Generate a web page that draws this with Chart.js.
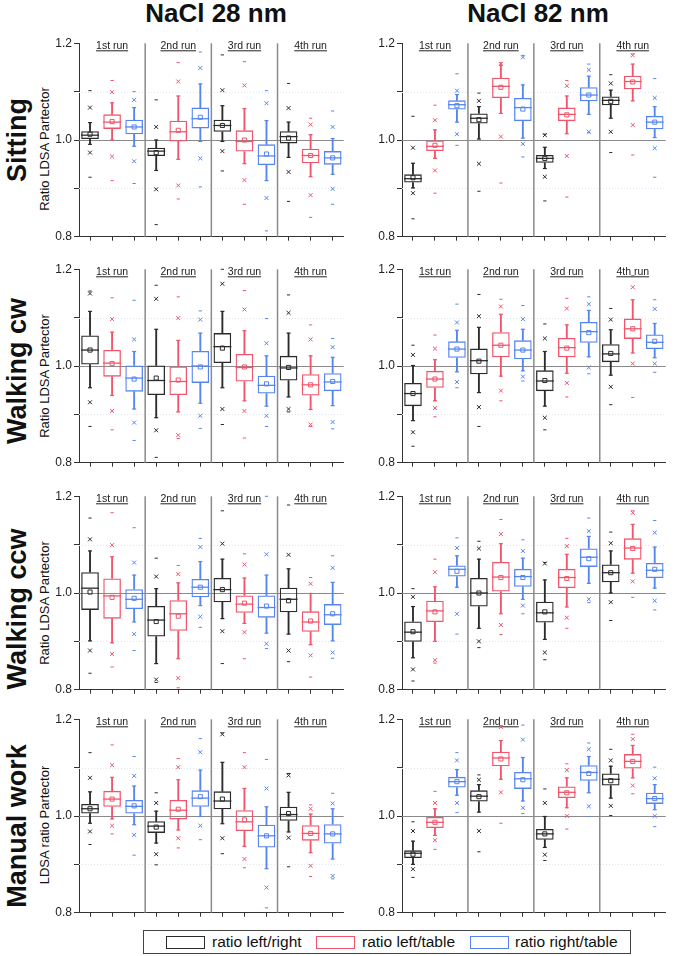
<!DOCTYPE html>
<html>
<head>
<meta charset="utf-8">
<script src="https://cdn.jsdelivr.net/npm/chart.js@4.4.1/dist/chart.umd.min.js"></script>
<style>
  body { margin: 0; background: #fff; }
  #page { position: relative; width: 677px; height: 956px; overflow: hidden; font-family: 'Liberation Sans', Arial, sans-serif; color: #111; }
  .panel { position: absolute; }
  .coltitle { position: absolute; top: 0; font-size: 26px; font-weight: bold; line-height: 26px; transform: translateX(-50%); white-space: nowrap; }
  .rot { position: absolute; white-space: nowrap; transform: translate(-50%, -50%) rotate(-90deg); line-height: 1; }
  .rowlab { font-size: 27px; font-weight: bold; }
  .ytitle { font-size: 13px; }
  #legend { position: absolute; left: 143px; top: 930px; width: 486px; height: 22px; border: 1px solid #444; }
  .sw { position: absolute; top: 5px; width: 37px; height: 11px; border: 1.5px solid; }
  .lt { position: absolute; top: 2px; font-size: 15.5px; line-height: 18px; white-space: nowrap; }
</style>
</head>
<body>
<div id="page">
  <div class="coltitle" style="left:216px">NaCl 28 nm</div>
  <div class="coltitle" style="left:538px">NaCl 82 nm</div>

  <div class="rot rowlab" style="left:17px; top:140px">Sitting</div>
  <div class="rot rowlab" style="left:17px; top:371px">Walking cw</div>
  <div class="rot rowlab" style="left:17px; top:609px">Walking ccw</div>
  <div class="rot rowlab" style="left:17px; top:826px">Manual work</div>

  <div class="rot ytitle" style="left:44px; top:149px">Ratio LDSA Partector</div>
  <div class="rot ytitle" style="left:44px; top:376px">Ratio LDSA Partector</div>
  <div class="rot ytitle" style="left:44px; top:603px">Ratio LDSA Partector</div>
  <div class="rot ytitle" style="left:44px; top:825px">LDSA ratio Partector</div>

  <div id="legend">
    <div class="sw" style="left:22px; border-color:#2b2b2b"></div>
    <div class="lt" style="left:68px">ratio left/right</div>
    <div class="sw" style="left:172px; border-color:#f0556b"></div>
    <div class="lt" style="left:218px">ratio left/table</div>
    <div class="sw" style="left:326px; border-color:#5585f0"></div>
    <div class="lt" style="left:371px">ratio right/table</div>
  </div>
</div>
<script>
// one row per box: [min, p1, whiskerLo, q1, median, mean, q3, whiskerHi, p99, max]
// order per panel: run1 (left/right, left/table, right/table), run2 ..., run4 ...
const runNames = ['1st run', '2nd run', '3rd run', '4th run'];
const seriesNames = ['ratio left/right', 'ratio left/table', 'ratio right/table'];
const seriesColors = ['#2b2b2b', '#f0556b', '#5585f0'];
const yTicks = [0.8, 1.0, 1.2];

const sitting28 = [
  [0.923, 0.974, 0.991, 1.002, 1.010, 1.012, 1.018, 1.036, 1.067, 1.102],
  [0.916, 0.966, 1.000, 1.023, 1.037, 1.038, 1.053, 1.077, 1.099, 1.123],
  [0.910, 0.956, 0.987, 1.012, 1.027, 1.027, 1.042, 1.067, 1.083, 1.100],
  [0.825, 0.898, 0.937, 0.967, 0.977, 0.974, 0.984, 1.000, 1.027, 1.083],
  [0.878, 0.906, 0.960, 0.997, 1.017, 1.020, 1.040, 1.091, 1.121, 1.160],
  [0.903, 0.962, 0.997, 1.024, 1.044, 1.047, 1.067, 1.116, 1.149, 1.182],
  [0.936, 0.977, 0.997, 1.017, 1.030, 1.030, 1.042, 1.071, 1.103, 1.176],
  [0.867, 0.917, 0.951, 0.976, 0.997, 1.000, 1.020, 1.065, 1.113, 1.162],
  [0.812, 0.880, 0.916, 0.948, 0.967, 0.971, 0.991, 1.040, 1.076, 1.102],
  [0.873, 0.934, 0.964, 0.993, 1.007, 1.004, 1.018, 1.037, 1.066, 1.117],
  [0.840, 0.886, 0.924, 0.952, 0.968, 0.968, 0.982, 1.011, 1.032, 1.045],
  [0.867, 0.899, 0.929, 0.949, 0.963, 0.963, 0.977, 1.003, 1.027, 1.060]
];
const sitting82 = [
  [0.837, 0.890, 0.901, 0.912, 0.920, 0.922, 0.929, 0.952, 0.984, 1.049],
  [0.890, 0.937, 0.962, 0.977, 0.987, 0.989, 0.999, 1.021, 1.041, 1.072],
  [0.989, 1.012, 1.037, 1.063, 1.073, 1.071, 1.082, 1.094, 1.102, 1.137],
  [0.894, 0.951, 1.002, 1.034, 1.045, 1.042, 1.055, 1.069, 1.081, 1.097],
  [0.911, 1.007, 1.055, 1.087, 1.111, 1.109, 1.129, 1.155, 1.157, 1.160],
  [0.965, 0.992, 1.004, 1.039, 1.067, 1.064, 1.087, 1.114, 1.171, 1.175],
  [0.874, 0.924, 0.941, 0.953, 0.962, 0.962, 0.969, 0.985, 1.010, 1.012],
  [0.882, 0.967, 1.013, 1.039, 1.053, 1.052, 1.067, 1.091, 1.112, 1.123],
  [1.015, 1.017, 1.053, 1.080, 1.093, 1.093, 1.109, 1.132, 1.145, 1.157],
  [0.974, 1.017, 1.045, 1.072, 1.082, 1.080, 1.090, 1.103, 1.117, 1.135],
  [0.969, 1.031, 1.081, 1.105, 1.121, 1.120, 1.133, 1.157, 1.175, 1.178],
  [0.923, 0.983, 1.005, 1.022, 1.037, 1.037, 1.050, 1.069, 1.087, 1.127]
];
const walkCw28 = [
  [0.875, 0.925, 0.955, 1.003, 1.033, 1.033, 1.063, 1.113, 1.150, 1.155],
  [0.868, 0.907, 0.939, 0.978, 1.006, 1.005, 1.033, 1.070, 1.097, 1.141],
  [0.846, 0.883, 0.911, 0.947, 0.975, 0.973, 1.001, 1.030, 1.055, 1.136],
  [0.811, 0.867, 0.893, 0.940, 0.970, 0.975, 1.001, 1.076, 1.139, 1.167],
  [0.850, 0.857, 0.905, 0.940, 0.968, 0.971, 0.999, 1.053, 1.099, 1.143],
  [0.871, 0.897, 0.923, 0.965, 1.000, 0.998, 1.031, 1.068, 1.096, 1.114],
  [0.879, 0.911, 0.955, 1.006, 1.040, 1.037, 1.068, 1.113, 1.170, 1.200],
  [0.851, 0.907, 0.928, 0.968, 0.997, 0.998, 1.025, 1.073, 1.117, 1.156],
  [0.875, 0.897, 0.917, 0.943, 0.960, 0.963, 0.980, 1.021, 1.047, 1.098],
  [0.905, 0.911, 0.936, 0.970, 0.996, 0.997, 1.021, 1.068, 1.110, 1.147],
  [0.875, 0.879, 0.910, 0.939, 0.961, 0.961, 0.983, 1.021, 1.055, 1.085],
  [0.870, 0.884, 0.918, 0.948, 0.967, 0.968, 0.985, 1.018, 1.039, 1.057]
];
const walkCw82 = [
  [0.834, 0.863, 0.887, 0.917, 0.943, 0.943, 0.965, 1.001, 1.023, 1.043],
  [0.895, 0.913, 0.928, 0.955, 0.973, 0.973, 0.990, 1.013, 1.036, 1.064],
  [0.955, 0.967, 0.988, 1.017, 1.035, 1.035, 1.051, 1.074, 1.090, 1.128],
  [0.875, 0.915, 0.945, 0.983, 1.011, 1.010, 1.036, 1.080, 1.103, 1.148],
  [0.928, 0.949, 0.979, 1.018, 1.043, 1.043, 1.070, 1.107, 1.123, 1.138],
  [0.969, 0.978, 0.990, 1.014, 1.033, 1.033, 1.053, 1.076, 1.097, 1.125],
  [0.868, 0.893, 0.917, 0.948, 0.969, 0.970, 0.991, 1.030, 1.057, 1.087],
  [0.936, 0.965, 0.985, 1.018, 1.038, 1.037, 1.058, 1.085, 1.119, 1.140],
  [0.984, 0.997, 1.019, 1.048, 1.071, 1.069, 1.091, 1.115, 1.128, 1.143],
  [0.920, 0.957, 0.981, 1.008, 1.025, 1.026, 1.045, 1.075, 1.096, 1.119],
  [0.935, 1.005, 1.027, 1.056, 1.077, 1.077, 1.098, 1.137, 1.163, 1.187],
  [0.987, 1.005, 1.017, 1.035, 1.049, 1.051, 1.065, 1.088, 1.118, 1.137]
];
const walkCcw28 = [
  [0.834, 0.881, 0.901, 0.965, 1.010, 1.002, 1.043, 1.087, 1.111, 1.155],
  [0.847, 0.874, 0.897, 0.947, 0.994, 0.991, 1.030, 1.075, 1.099, 1.166],
  [0.881, 0.915, 0.940, 0.967, 0.987, 0.989, 1.008, 1.037, 1.063, 1.135],
  [0.815, 0.821, 0.854, 0.910, 0.944, 0.941, 0.973, 1.009, 1.034, 1.072],
  [0.804, 0.824, 0.864, 0.922, 0.957, 0.952, 0.985, 1.021, 1.039, 1.057],
  [0.929, 0.951, 0.974, 0.991, 1.012, 1.012, 1.029, 1.065, 1.095, 1.113],
  [0.854, 0.921, 0.947, 0.981, 1.007, 1.007, 1.031, 1.070, 1.102, 1.170],
  [0.864, 0.919, 0.937, 0.959, 0.977, 0.979, 0.995, 1.031, 1.059, 1.081],
  [0.885, 0.895, 0.917, 0.949, 0.970, 0.973, 0.995, 1.037, 1.080, 1.200],
  [0.858, 0.881, 0.915, 0.960, 0.987, 0.984, 1.011, 1.050, 1.079, 1.182],
  [0.826, 0.871, 0.893, 0.920, 0.940, 0.942, 0.962, 0.999, 1.019, 1.032],
  [0.865, 0.877, 0.901, 0.934, 0.955, 0.957, 0.977, 1.022, 1.052, 1.077]
];
const walkCcw82 = [
  [0.818, 0.842, 0.866, 0.899, 0.919, 0.920, 0.941, 0.972, 0.992, 1.009],
  [0.855, 0.861, 0.900, 0.940, 0.963, 0.961, 0.984, 1.013, 1.043, 1.070],
  [0.915, 0.957, 1.012, 1.034, 1.049, 1.045, 1.057, 1.077, 1.093, 1.114],
  [0.887, 0.900, 0.927, 0.972, 1.000, 1.000, 1.031, 1.070, 1.092, 1.107],
  [0.914, 0.934, 0.957, 1.003, 1.033, 1.032, 1.064, 1.102, 1.122, 1.152],
  [0.957, 0.974, 0.987, 1.013, 1.034, 1.032, 1.050, 1.072, 1.087, 1.110],
  [0.862, 0.877, 0.904, 0.939, 0.959, 0.961, 0.982, 1.027, 1.061, 1.063],
  [0.927, 0.949, 0.971, 1.010, 1.032, 1.030, 1.050, 1.080, 1.097, 1.113],
  [0.980, 0.987, 1.020, 1.054, 1.074, 1.071, 1.092, 1.117, 1.128, 1.155],
  [0.943, 0.981, 1.000, 1.022, 1.042, 1.042, 1.059, 1.087, 1.103, 1.126],
  [0.991, 1.024, 1.041, 1.069, 1.093, 1.092, 1.113, 1.142, 1.166, 1.170],
  [0.965, 0.984, 1.010, 1.031, 1.047, 1.049, 1.062, 1.095, 1.125, 1.150]
];
const manual28 = [
  [0.941, 0.968, 0.985, 1.005, 1.015, 1.015, 1.025, 1.050, 1.079, 1.131],
  [0.963, 0.980, 0.994, 1.019, 1.035, 1.035, 1.052, 1.080, 1.105, 1.147],
  [0.919, 0.961, 0.982, 1.005, 1.020, 1.021, 1.033, 1.062, 1.083, 1.123],
  [0.899, 0.921, 0.944, 0.965, 0.979, 0.977, 0.989, 1.010, 1.027, 1.048],
  [0.934, 0.954, 0.971, 0.993, 1.012, 1.014, 1.033, 1.075, 1.101, 1.119],
  [0.951, 0.980, 0.999, 1.019, 1.037, 1.040, 1.053, 1.095, 1.132, 1.160],
  [0.922, 0.954, 0.984, 1.014, 1.031, 1.035, 1.051, 1.111, 1.169, 1.172],
  [0.893, 0.911, 0.937, 0.969, 0.988, 0.992, 1.012, 1.057, 1.101, 1.131],
  [0.810, 0.852, 0.891, 0.935, 0.959, 0.959, 0.982, 1.019, 1.057, 1.117],
  [0.895, 0.955, 0.967, 0.990, 1.003, 1.005, 1.019, 1.049, 1.084, 1.088],
  [0.875, 0.897, 0.924, 0.949, 0.964, 0.964, 0.981, 1.004, 1.015, 1.023],
  [0.870, 0.876, 0.911, 0.943, 0.963, 0.963, 0.983, 1.015, 1.026, 1.047]
];
const manual82 = [
  [0.873, 0.890, 0.900, 0.913, 0.923, 0.921, 0.929, 0.948, 0.969, 0.988],
  [0.931, 0.950, 0.960, 0.975, 0.987, 0.987, 0.998, 1.015, 1.027, 1.051],
  [1.007, 1.027, 1.043, 1.059, 1.071, 1.071, 1.081, 1.096, 1.115, 1.131],
  [0.926, 0.969, 1.008, 1.030, 1.041, 1.040, 1.053, 1.065, 1.075, 1.085],
  [0.985, 1.049, 1.076, 1.103, 1.120, 1.118, 1.133, 1.156, 1.184, 1.187],
  [1.005, 1.017, 1.031, 1.056, 1.077, 1.075, 1.091, 1.121, 1.158, 1.188],
  [0.908, 0.920, 0.935, 0.951, 0.963, 0.963, 0.973, 0.999, 1.027, 1.056],
  [0.973, 1.000, 1.017, 1.037, 1.049, 1.048, 1.061, 1.079, 1.095, 1.108],
  [0.999, 1.020, 1.048, 1.073, 1.090, 1.088, 1.105, 1.123, 1.138, 1.151],
  [1.001, 1.021, 1.037, 1.063, 1.076, 1.073, 1.088, 1.103, 1.115, 1.138],
  [1.046, 1.063, 1.079, 1.098, 1.113, 1.113, 1.128, 1.146, 1.159, 1.169],
  [0.978, 1.000, 1.013, 1.025, 1.036, 1.036, 1.048, 1.065, 1.078, 1.101]
];

// panel placement: plot area top (value 1.2) per row, plot area left per column
const panels = [
  { rows: sitting28, col: 0, top: 41 },  { rows: sitting82, col: 1, top: 41 },
  { rows: walkCw28, col: 0, top: 267 },  { rows: walkCw82, col: 1, top: 267 },
  { rows: walkCcw28, col: 0, top: 494 }, { rows: walkCcw82, col: 1, top: 494 },
  { rows: manual28, col: 0, top: 717 },  { rows: manual82, col: 1, top: 717 }
];
const colLeft = [79, 402];
const colWidth = [274, 273];

Chart.defaults.font.family = "'Liberation Sans', Arial, sans-serif";

const decorPlugin = {
  id: 'decor',
  beforeDatasetsDraw(chart) {
    const { ctx, chartArea: a, scales: { x, y } } = chart;
    ctx.save();
    ctx.lineWidth = 1;
    ctx.strokeStyle = '#e0e6ec';
    ctx.setLineDash([1, 2]);
    [0.9, 1.1].forEach(v => {
      const py = Math.round(y.getPixelForValue(v)) + 0.5;
      ctx.beginPath(); ctx.moveTo(a.left, py); ctx.lineTo(a.right, py); ctx.stroke();
    });
    ctx.setLineDash([]);
    ctx.strokeStyle = '#8a8a8a';
    const p1 = Math.round(y.getPixelForValue(1.0)) + 0.5;
    ctx.beginPath(); ctx.moveTo(a.left, p1); ctx.lineTo(a.right, p1); ctx.stroke();
    ctx.lineWidth = 1.5;
    [2.5, 5.5, 8.5].forEach(b => {
      const px = x.getPixelForValue(b);
      ctx.beginPath(); ctx.moveTo(px, a.top); ctx.lineTo(px, a.bottom); ctx.stroke();
    });
    ctx.fillStyle = '#222';
    ctx.strokeStyle = '#222';
    ctx.lineWidth = 1;
    ctx.font = "10.5px 'Liberation Sans', Arial, sans-serif";
    ctx.textAlign = 'center';
    runNames.forEach((name, i) => {
      const cx = x.getPixelForValue(i * 3 + 1);
      ctx.fillText(name, cx, a.top + 6);
      const w = ctx.measureText(name).width;
      ctx.beginPath(); ctx.moveTo(cx - w / 2, a.top + 7.5); ctx.lineTo(cx + w / 2, a.top + 7.5); ctx.stroke();
    });
    ctx.restore();
  }
};

const labels = runNames.flatMap(r => seriesNames.map(s => r + ' ' + s));
const colors12 = labels.map((_, i) => seriesColors[i % 3]);

function marks(rows, k, style, radius, width) {
  return {
    type: 'line', data: rows.map(r => r[k]), showLine: false, clip: false,
    pointStyle: style, pointRadius: radius, pointHoverRadius: radius,
    pointBorderColor: colors12, pointBackgroundColor: 'rgba(0,0,0,0)', pointBorderWidth: width
  };
}
function whisker(data) {
  return {
    type: 'bar', data: data, grouped: false, barThickness: 1.2,
    backgroundColor: colors12, borderWidth: 0
  };
}

const page = document.getElementById('page');
panels.forEach(p => {
  const padTop = 8, yW = 30, xH = 6;
  const w = yW + colWidth[p.col] + 1, h = padTop + 200 + xH;
  const canvas = document.createElement('canvas');
  canvas.className = 'panel';
  canvas.width = w; canvas.height = h;
  canvas.style.left = (colLeft[p.col] - yW) + 'px';
  canvas.style.top = (p.top - padTop) + 'px';
  canvas.style.width = w + 'px'; canvas.style.height = h + 'px';
  page.appendChild(canvas);

  const rows = p.rows;
  new Chart(canvas.getContext('2d'), {
    type: 'bar',
    data: {
      labels: labels,
      datasets: [
        {
          type: 'bar', data: rows.map(r => [r[3], r[6]]), grouped: false,
          barPercentage: 0.8, categoryPercentage: 1,
          backgroundColor: 'rgba(0,0,0,0)', borderColor: colors12, borderWidth: 1.3, borderSkipped: false
        },
        whisker(rows.map(r => [r[6], r[7]])),
        whisker(rows.map(r => [r[2], r[3]])),
        marks(rows, 4, 'line', 9, 1.3),
        marks(rows, 5, 'rect', 2.9, 1),
        marks(rows, 7, 'line', 2, 1.2),
        marks(rows, 2, 'line', 2, 1.2),
        marks(rows, 1, 'crossRot', 2.8, 1),
        marks(rows, 8, 'crossRot', 2.8, 1),
        marks(rows, 0, 'line', 1.6, 1),
        marks(rows, 9, 'line', 1.6, 1)
      ]
    },
    options: {
      responsive: false,
      animation: false,
      events: [],
      layout: { padding: { top: padTop, right: 1, bottom: 0, left: 0 } },
      plugins: { legend: { display: false }, tooltip: { enabled: false } },
      scales: {
        x: {
          offset: true,
          grid: { offset: false, drawOnChartArea: false, drawTicks: true, tickLength: 4, color: '#333' },
          border: { display: true, color: '#333', width: 1 },
          ticks: { callback: () => '', padding: 0, autoSkip: false, maxRotation: 0 },
          afterFit: s => { s.height = xH; }
        },
        y: {
          min: 0.8, max: 1.2,
          grid: { drawOnChartArea: false, tickLength: 5, color: '#333' },
          border: { display: true, color: '#333', width: 1 },
          ticks: {
            stepSize: 0.1, padding: 2, color: '#222', font: { size: 12 },
            callback: v => yTicks.some(t => Math.abs(t - v) < 1e-6) ? v.toFixed(1) : ''
          },
          afterFit: s => { s.width = yW; }
        }
      }
    },
    plugins: [decorPlugin]
  });
});
</script>
</body>
</html>
